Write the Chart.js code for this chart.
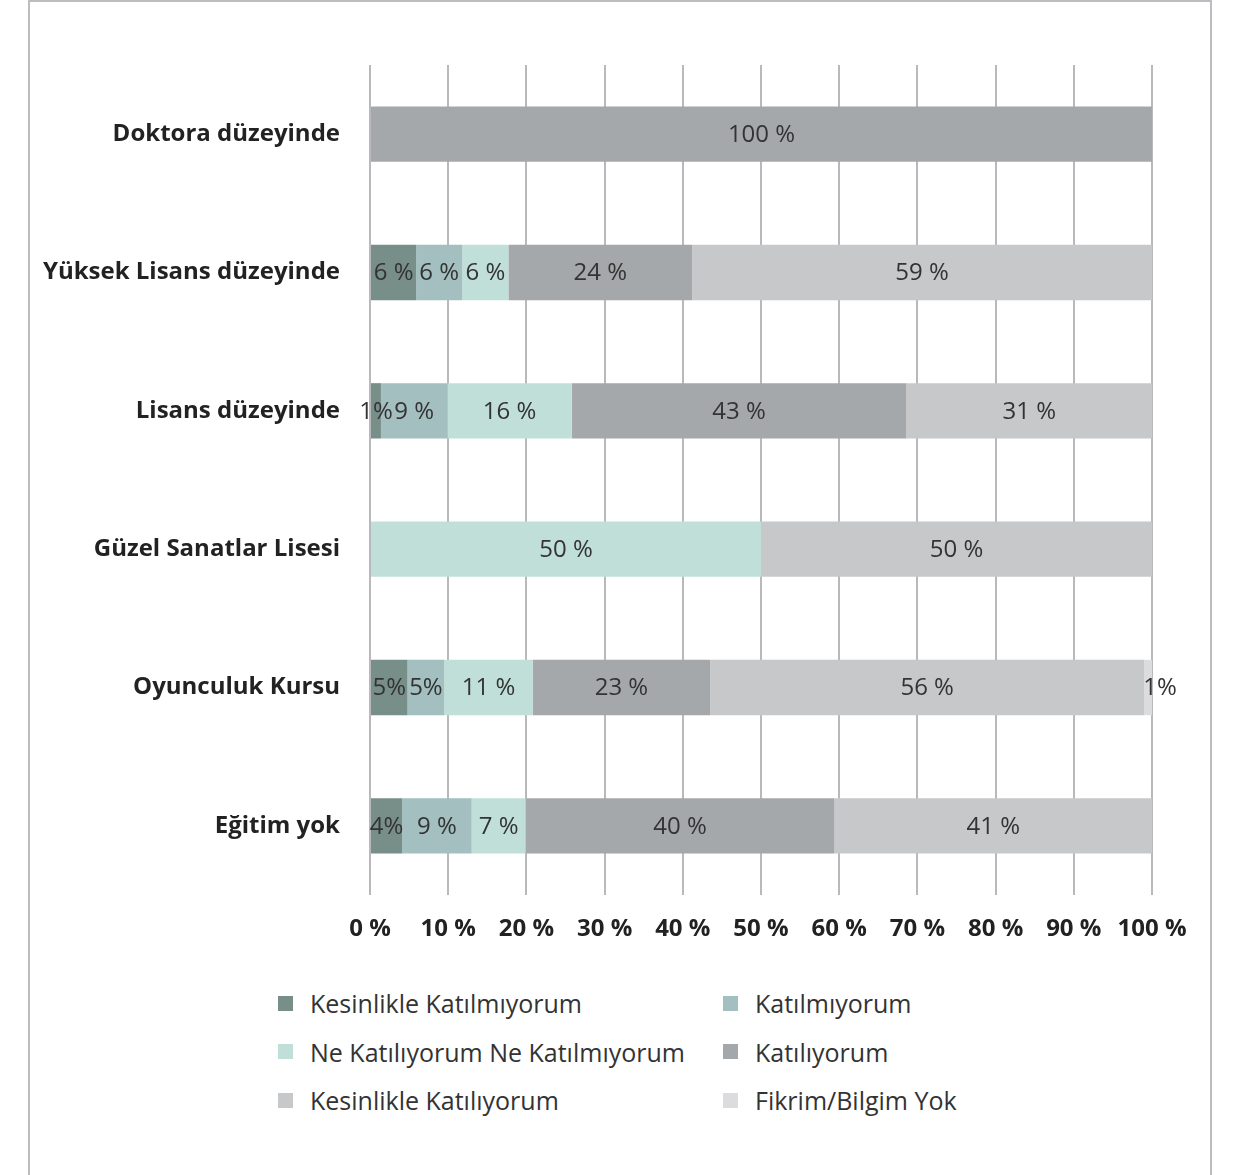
<!DOCTYPE html>
<html lang="tr">
<head>
<meta charset="utf-8">
<script src="https://cdn.jsdelivr.net/npm/chart.js@4.4.1/dist/chart.umd.min.js"></script>
<style>
  html, body { margin: 0; padding: 0; background: #fff; overflow: hidden; }
  body { width: 1242px; height: 1175px; position: relative; font-family: "Open Sans", sans-serif; }
  .frame { position: absolute; left: 28px; top: 0; width: 1180px; height: 1200px; border: 2px solid #bdbdc1; }
  #chartBox { position: absolute; left: 0; top: 0; width: 1242px; height: 960px; }
  .legend { position: absolute; left: 278px; top: 986px; width: 800px; }
  .legend-item { position: absolute; display: flex; align-items: center; font-size: 25px; color: #333; white-space: nowrap; }
  .legend-item span.box { width: 15px; height: 15px; margin-right: 17px; display: inline-block; }
</style>
</head>
<body>
<div class="frame"></div>
<div id="chartBox"><canvas id="chart" width="1242" height="960"></canvas></div>
<div class="legend" id="legend"></div>

<script>
const categories = ["Doktora düzeyinde", "Yüksek Lisans düzeyinde", "Lisans düzeyinde", "Güzel Sanatlar Lisesi", "Oyunculuk Kursu", "Eğitim yok"];
const seriesNames = ["Kesinlikle Katılmıyorum", "Katılmıyorum", "Ne Katılıyorum Ne Katılmıyorum", "Katılıyorum", "Kesinlikle Katılıyorum", "Fikrim/Bilgim Yok"];
const seriesColors = ["#788f89", "#a3bfbf", "#c0dfd8", "#a5a8aa", "#c7c8ca", "#dcdcde"];

const kesinlikleKatilmiyorum = [0, 5.9, 1.4, 0, 4.8, 4.1];
const katilmiyorum = [0, 5.9, 8.5, 0, 4.7, 8.9];
const neKatiliyorumNeKatilmiyorum = [0, 5.9, 15.9, 50, 11.3, 6.9];
const katiliyorum = [100, 23.5, 42.8, 0, 22.7, 39.5];
const kesinlikleKatiliyorum = [0, 58.8, 31.4, 50, 55.5, 40.6];
const fikrimYok = [0, 0, 0, 0, 1.0, 0];

const xTicks = [0, 10, 20, 30, 40, 50, 60, 70, 80, 90, 100];

const allSeries = [kesinlikleKatilmiyorum, katilmiyorum, neKatiliyorumNeKatilmiyorum, katiliyorum, kesinlikleKatiliyorum, fikrimYok];

function labelText(v) {
  const r = Math.round(v);
  return v < 5 ? r + "%" : r + " %";
}

// draws the value inside each bar segment
const barLabels = {
  id: "barLabels",
  afterDatasetsDraw(chart) {
    const ctx = chart.ctx;
    ctx.save();
    ctx.font = "24px 'Open Sans'";
    ctx.fillStyle = "#333";
    ctx.textAlign = "center";
    ctx.textBaseline = "middle";
    chart.data.datasets.forEach((ds, i) => {
      const meta = chart.getDatasetMeta(i);
      meta.data.forEach((bar, j) => {
        const v = ds.data[j];
        if (!v) return;
        let cx = (bar.x + bar.base) / 2;
        if (i === 5) cx += 12;
        ctx.fillText(labelText(v), cx, bar.y + 1);
      });
    });
    ctx.restore();
  }
};

const datasets = allSeries.map((data, i) => ({
  label: seriesNames[i],
  data: data,
  backgroundColor: seriesColors[i],
  borderWidth: 0,
  barPercentage: 0.8,
  categoryPercentage: 0.5
}));

new Chart(document.getElementById("chart").getContext("2d"), {
  type: "bar",
  data: { labels: categories, datasets: datasets },
  options: {
    indexAxis: "y",
    responsive: false,
    animation: false,
    layout: { padding: { top: 65, right: 90, left: 0, bottom: 0 } },
    plugins: { legend: { display: false }, tooltip: { enabled: false } },
    scales: {
      x: {
        stacked: true,
        min: 0,
        max: 100,
        afterBuildTicks: (s) => { s.ticks = xTicks.map(v => ({ value: v })); },
        afterFit: (s) => { s.height = 65; },
        grid: { color: "#b9b9bd", lineWidth: 2, drawTicks: false },
        border: { display: false },
        ticks: {
          padding: 20,
          color: "#222",
          font: { family: "Open Sans", size: 24, weight: "bold" },
          callback: (v) => v + " %"
        }
      },
      y: {
        stacked: true,
        afterFit: (s) => { s.width = 370; },
        grid: { display: false },
        border: { display: false },
        ticks: {
          padding: 22,
          color: "#222",
          font: { family: "Open Sans", size: 24, weight: "bold" }
        }
      }
    }
  },
  plugins: [barLabels]
});

// legend in two columns
const legend = document.getElementById("legend");
seriesNames.forEach((name, i) => {
  const item = document.createElement("div");
  item.className = "legend-item";
  item.style.left = (i % 2 === 0 ? 0 : 445) + "px";
  item.style.top = (Math.floor(i / 2) * 48.5) + "px";
  item.innerHTML = '<span class="box" style="background:' + seriesColors[i] + '"></span>' + name;
  legend.appendChild(item);
});
</script>
</body>
</html>
